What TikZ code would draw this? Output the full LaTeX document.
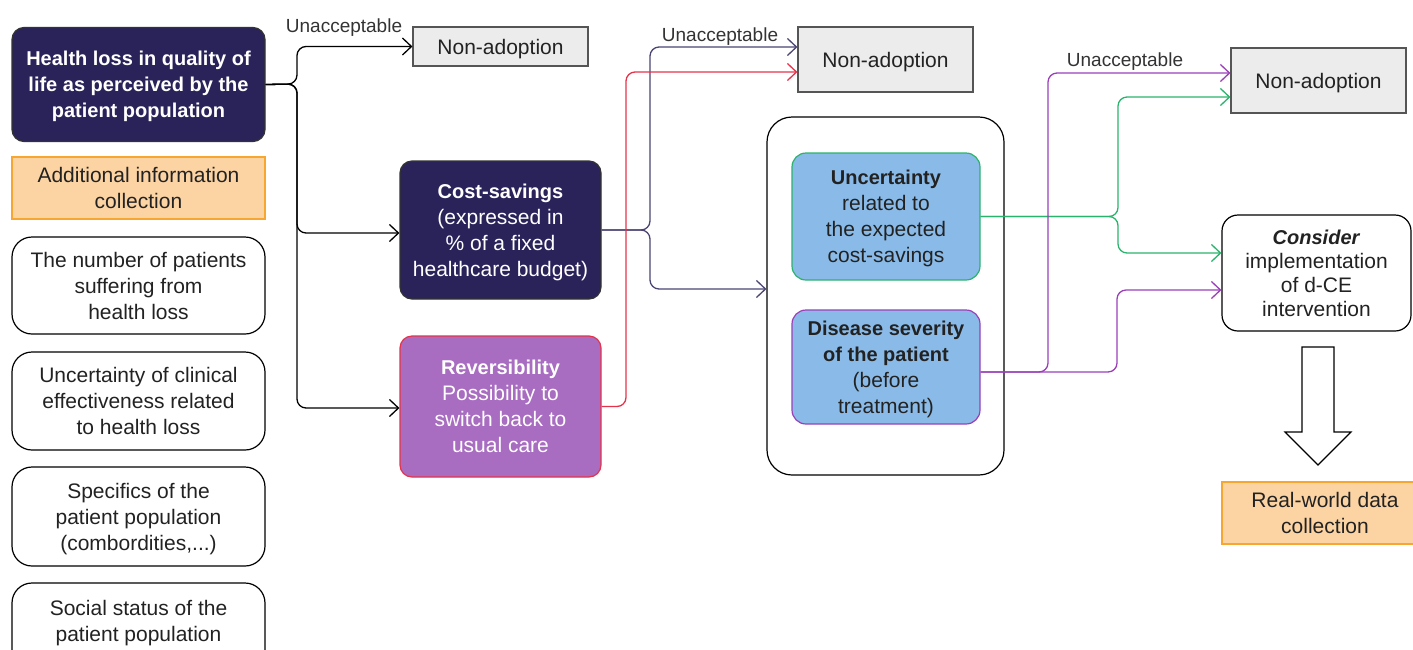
\documentclass[tikz,border=0pt]{standalone}
\usepackage{fontspec}
\setmainfont{Liberation Sans}
\usetikzlibrary{arrows.meta}
\definecolor{navy}{HTML}{2A235A}
\definecolor{purp}{HTML}{A86CC0}
\definecolor{redb}{HTML}{E5334B}
\definecolor{bluef}{HTML}{8ABBE8}
\definecolor{greenb}{HTML}{2AB36C}
\definecolor{purpb}{HTML}{9A3FB8}
\definecolor{orf}{HTML}{FCD4A4}
\definecolor{orb}{HTML}{F7A632}
\definecolor{grf}{HTML}{ECECEC}
\definecolor{grb}{HTML}{555555}
\definecolor{txt}{HTML}{222222}
\newcommand{\Bf}[1]{{\fontsize{20}{26}\selectfont\bfseries #1}}
\tikzset{
  base/.style={inner sep=0pt, align=center, text=txt, text depth=0pt, font=\fontsize{21}{26}\selectfont, line width=1.2pt},
  darkbox/.style={base, fill=navy, draw=black!80, rounded corners=12pt, text=white},
  whitebox/.style={base, draw=black, rounded corners=20pt},
  orbox/.style={base, fill=orf, draw=orb},
  nabox/.style={base, fill=grf, draw=grb},
  bluebox/.style={base, fill=bluef, rounded corners=14pt},
  lbl/.style={inner sep=0pt, text=black!80, text depth=0pt, font=\fontsize{19}{24}\selectfont},
  conn/.style={line width=1.3pt, rounded corners=9pt},
  tip/.style={conn, -{Straight Barb[length=9pt,width=17pt,line width=1.3pt]}}
}
\begin{document}
\begin{tikzpicture}[x=1pt,y=-1pt]
\useasboundingbox (0,0) rectangle (1413,649);
\clip (0,0) rectangle (1413,649);
% left column
\node[darkbox, minimum width=253pt, minimum height=114pt, font=\bfseries\fontsize{20}{26}\selectfont] (health) at (138.5,84.5) {Health loss in quality of\\life as perceived by the\\patient population};
\node[orbox, minimum width=253pt, minimum height=62pt] (addinfo) at (138.5,188) {Additional information\\collection};
\node[whitebox, minimum width=253pt, minimum height=97pt] (number) at (138.5,285.5) {The number of patients\\suffering from\\health loss};
\node[whitebox, minimum width=253pt, minimum height=98pt] (clin) at (138.5,401) {Uncertainty of clinical\\effectiveness related\\to health loss};
\node[whitebox, minimum width=253pt, minimum height=99pt] (spec) at (138.5,516.5) {Specifics of the\\patient population\\(combordities,...)};
\node[whitebox, minimum width=253pt, minimum height=102pt] (social) at (138.5,634) {Social status of the\\patient population\\\strut};
% second column
\node[nabox, minimum width=175pt, minimum height=39pt] (na1) at (500.5,46.5) {Non-adoption};
\node[lbl] (un1) at (344,26) {Unacceptable};
\node[darkbox, minimum width=201pt, minimum height=138pt] (cost) at (500.5,230) {\Bf{Cost-savings}\\(expressed in\\\% of a fixed\\healthcare budget)};
\node[darkbox, fill=purp, draw=redb, minimum width=201pt, minimum height=141pt] (rev) at (500.5,406.5) {\Bf{Reversibility}\\Possibility to\\switch back to\\usual care};
% third column
\node[nabox, minimum width=175pt, minimum height=65pt] (na2) at (885.5,59.5) {Non-adoption};
\node[lbl] (un2) at (720,35) {Unacceptable};
\node[whitebox, rounded corners=25pt, minimum width=237pt, minimum height=358pt] (cont) at (885.5,296) {};
\node[bluebox, draw=greenb, minimum width=188pt, minimum height=127pt] (unc) at (886,216.5) {\Bf{Uncertainty}\\related to\\the expected\\cost-savings};
\node[bluebox, draw=purpb, minimum width=188pt, minimum height=114pt] (dis) at (886,367) {\Bf{Disease severity}\\\Bf{of the patient}\\(before\\treatment)};
% fourth column
\node[nabox, minimum width=175pt, minimum height=65pt] (na3) at (1318.5,80.5) {Non-adoption};
\node[lbl] (un3) at (1125,60) {Unacceptable};
\node[whitebox, rounded corners=16pt, minimum width=189pt, minimum height=116pt, font=\fontsize{21}{24}\selectfont] (cons) at (1316.5,273) {\Bf{\textit{Consider}}\\implementation\\of d-CE\\intervention};
\node[orbox, minimum width=206pt, minimum height=62pt] (rwd) at (1325,513) {Real-world data\\collection};
% block arrow
\draw[line width=1.2pt, fill=white] (1302,347) -- (1334,347) -- (1334,432) -- (1351,432) -- (1318,465) -- (1285,432) -- (1302,432) -- cycle;
% junctions
\coordinate (j1) at (297,84);
\coordinate (j2) at (650,230);
\coordinate (j3) at (626,406.5);
\coordinate (j4) at (1118,216.5);
\coordinate (j5) at (1048,372);
\coordinate (j6) at (1117,372);
% connectors
\draw[tip, black] (health.east) -- (j1) |- (na1.west);
\draw[tip, black] (health.east) -- (j1) |- ([yshift=-3pt]cost.west);
\draw[tip, black] (health.east) -- (j1) |- ([yshift=-1.5pt]rev.west);
\draw[tip, navy!85!white] (cost.east) -- (j2) |- ([yshift=12.5pt]na2.west);
\draw[tip, navy!85!white] (cost.east) -- (j2) |- ([yshift=7pt]cont.west);
\draw[tip, redb] (rev.east) -- (j3) |- ([yshift=-12.5pt]na2.west);
\draw[tip, greenb] (unc.east) -- (j4) |- ([yshift=-16.5pt]na3.west);
\draw[tip, greenb] (unc.east) -- (j4) |- ([yshift=20pt]cons.west);
\draw[tip, purpb] ([yshift=-5pt]dis.east) -- (j5) |- ([yshift=7.5pt]na3.west);
\draw[tip, purpb] ([yshift=-5pt]dis.east) -- (j6) |- ([yshift=-17pt]cons.west);
\end{tikzpicture}
\end{document}
